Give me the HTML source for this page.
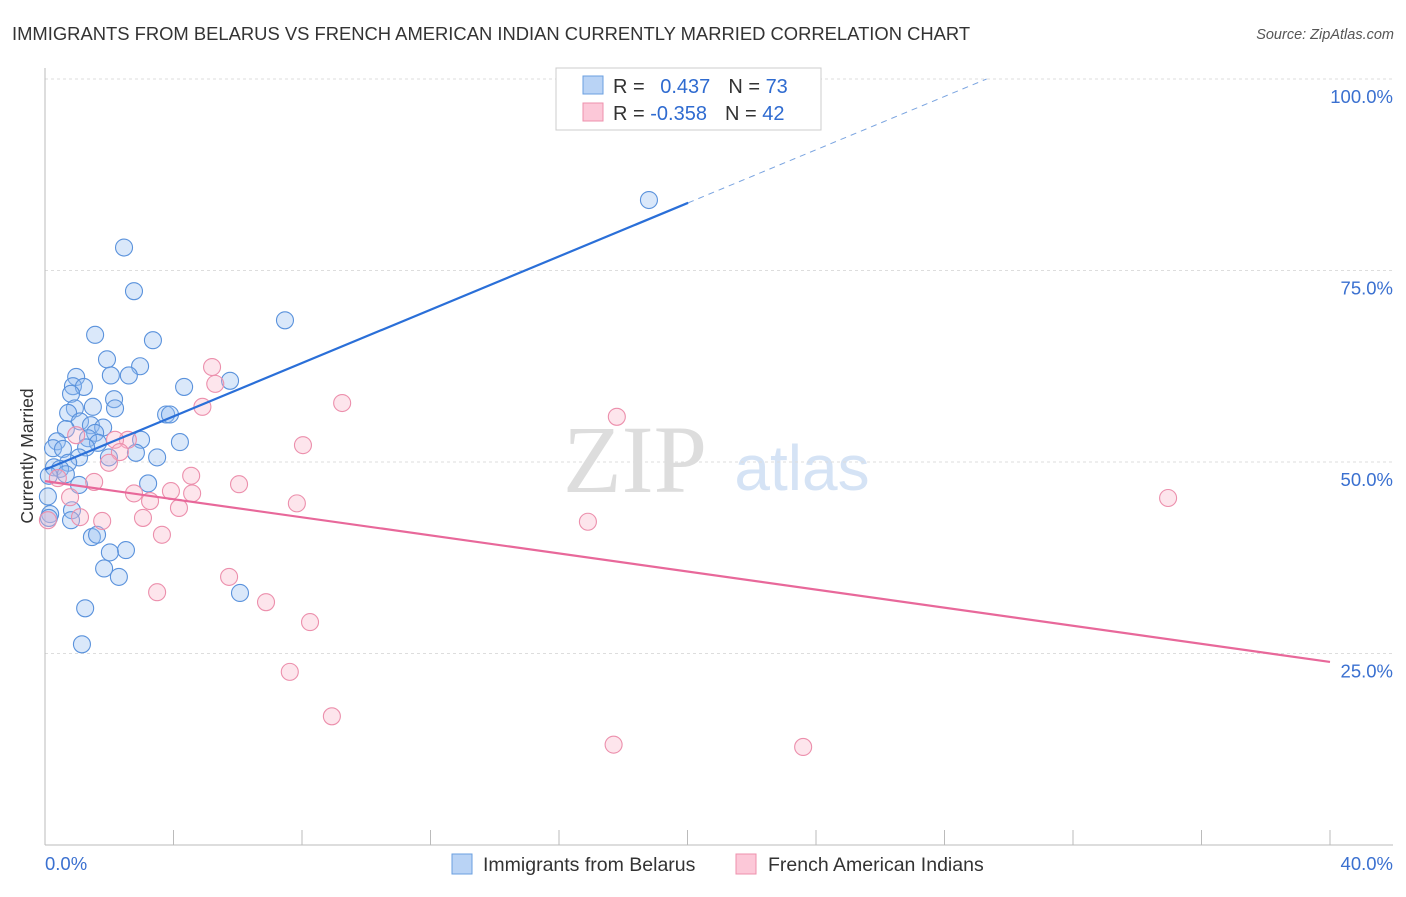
<!DOCTYPE html>
<html><head><meta charset="utf-8"><style>
body{margin:0;background:#fff;font-family:"Liberation Sans",sans-serif}
svg text{font-family:"Liberation Sans",sans-serif}
</style></head><body>
<svg id="c" width="1406" height="892">
<text x="12" y="40" font-size="18.4" fill="#333">IMMIGRANTS FROM BELARUS VS FRENCH AMERICAN INDIAN CURRENTLY MARRIED CORRELATION CHART</text>
<text x="1394" y="39" font-size="14.5" fill="#555" font-style="italic" text-anchor="end">Source: ZipAtlas.com</text>
<text x="635" y="492" font-size="96" fill="#ddd" font-family="Liberation Serif" text-anchor="middle" style="font-family:'Liberation Serif',serif">ZIP</text>
<text x="802" y="490" font-size="64" fill="#d5e3f5" text-anchor="middle">atlas</text>
<g id="grid"></g><g id="axes"></g><g id="pts"></g><g id="lines"></g>
<text transform="translate(33,456) rotate(-90)" font-size="17.5" fill="#333" text-anchor="middle">Currently Married</text>
<text x="45" y="870" font-size="18.5" fill="#3a70d0">0.0%</text>
<text x="1393" y="870" font-size="18.5" fill="#3a70d0" text-anchor="end">40.0%</text>
<g>
<rect x="556" y="68" width="265" height="62" fill="#fff" stroke="#ccc"/>
<rect x="583" y="76" width="20" height="18" fill="#b9d3f5" stroke="#6a9fe0"/>
<rect x="583" y="103" width="20" height="18" fill="#fcc8d8" stroke="#ee90ac"/>
<text x="613" y="93" font-size="20" fill="#333">R = <tspan fill="#2f6bd0" dx="10">0.437</tspan><tspan dx="18" fill="#333">N = </tspan><tspan fill="#2f6bd0">73</tspan></text>
<text x="613" y="120" font-size="20" fill="#333">R = <tspan fill="#2f6bd0">-0.358</tspan><tspan dx="18" fill="#333">N = </tspan><tspan fill="#2f6bd0">42</tspan></text>
</g>
<g>
<rect x="452" y="854" width="20" height="20" fill="#b9d3f5" stroke="#6a9fe0"/>
<text x="483" y="871" font-size="19.5" fill="#333">Immigrants from Belarus</text>
<rect x="736" y="854" width="20" height="20" fill="#fcc8d8" stroke="#ee90ac"/>
<text x="768" y="871" font-size="19.5" fill="#333">French American Indians</text>
</g>
</svg>
<script>
const yTicks=[25,50,75,100];
const yTickLabels=["25.0%","50.0%","75.0%","100.0%"];
const blueX=[18.8,2.46,2.77,7.47,1.56,3.36,1.93,2.96,2.05,2.61,0.97,0.87,1.21,4.33,5.76,0.81,2.15,0.93,1.49,2.18,0.72,3.77,3.89,1.09,1.43,1.81,0.65,1.56,1.34,2.99,0.37,4.2,1.65,1.28,0.25,0.56,2.83,1.99,3.49,1.06,0.72,0.28,0.47,0.65,0.12,1.06,3.21,0.09,0.84,0.16,0.12,0.81,1.46,1.62,2.52,2.02,1.84,2.3,6.07,1.25,1.15];
const blueY=[84.2,78.0,72.3,68.5,66.6,65.9,63.4,62.5,61.3,61.3,61.1,59.9,59.8,59.8,60.6,58.9,58.2,57.0,57.2,57.0,56.4,56.2,56.2,55.3,54.8,54.5,54.3,53.8,53.1,52.9,52.7,52.6,52.5,51.9,51.8,51.7,51.2,50.6,50.6,50.6,49.9,49.3,49.1,48.4,48.2,47.0,47.2,45.5,43.7,43.2,42.7,42.4,40.2,40.5,38.5,38.2,36.1,35.0,32.9,30.9,26.2];
const pinkX=[34.96,17.8,9.25,5.2,5.3,4.9,8.03,4.55,6.04,7.84,16.9,3.92,4.58,2.77,4.17,3.27,3.05,3.64,2.58,2.18,2.33,1.99,0.97,1.53,0.78,1.09,1.78,0.4,3.49,5.73,6.88,8.25,7.62,8.93,17.7,23.6,0.09];
const pinkY=[45.3,55.9,57.7,62.4,60.2,57.2,52.2,48.2,47.1,44.6,42.2,46.2,45.9,45.9,44.0,44.9,42.7,40.5,52.9,52.9,51.3,49.9,53.5,47.4,45.4,42.8,42.3,47.9,33.0,35.0,31.7,29.1,22.6,16.8,13.1,12.8,42.4];
const blueFit=[49.0,1.74];   // intercept, slope
const pinkFit=[47.5,-0.59];
const X=v=>45+v/40*1285, Y=v=>845-v*7.66;
const NS='http://www.w3.org/2000/svg';
function mk(p,t,a){const e=document.createElementNS(NS,t);for(const k in a)e.setAttribute(k,a[k]);p.appendChild(e);return e;}
const grid=document.getElementById('grid'),axes=document.getElementById('axes'),pts=document.getElementById('pts'),lines=document.getElementById('lines');
yTicks.forEach((t,i)=>{
 const l=mk(grid,'line',{x1:45,x2:1393,y1:Y(t),y2:Y(t),stroke:'#ddd','stroke-dasharray':'3,3'});
 
 
 const tx=mk(grid,'text',{x:1393,y:Y(t)+24,'font-size':18.5,fill:'#3a70d0','text-anchor':'end'});
 tx.textContent=yTickLabels[i];
 
 
});
const ya=mk(axes,'line',{x1:45,x2:45,y1:68,y2:845,stroke:'#bbb'});


const xa=mk(axes,'line',{x1:45,x2:1393,y1:845,y2:845,stroke:'#bbb'});


for(let i=0;i<=10;i++){const t=mk(axes,'line',{x1:X(i*4),x2:X(i*4),y1:830,y2:845,stroke:'#bbb'});
 
 }
blueX.forEach((x,i)=>{const c=mk(pts,'circle',{cx:X(x),cy:Y(blueY[i]),r:8.5,fill:'rgba(150,190,240,0.35)',stroke:'#5a92dc','stroke-width':1.1});
 
 });
pinkX.forEach((x,i)=>{const c=mk(pts,'circle',{cx:X(x),cy:Y(pinkY[i]),r:8.5,fill:'rgba(250,180,200,0.35)',stroke:'#ec8fac','stroke-width':1.1});
 
 });
const bx2=20.02,bx3=(100-blueFit[0])/blueFit[1];
const bl=mk(lines,'line',{x1:X(0),y1:Y(blueFit[0]),x2:X(bx2),y2:Y(blueFit[0]+blueFit[1]*bx2),stroke:'#2a6fd8','stroke-width':2.2});


const bd=mk(lines,'line',{x1:X(bx2),y1:Y(blueFit[0]+blueFit[1]*bx2),x2:X(bx3),y2:Y(100),stroke:'#7aa4e0','stroke-width':1,'stroke-dasharray':'6,5'});


const pl=mk(lines,'line',{x1:X(0),y1:Y(pinkFit[0]),x2:X(40),y2:Y(pinkFit[0]+pinkFit[1]*40),stroke:'#e8689a','stroke-width':2.2});


</script>
</body></html>
